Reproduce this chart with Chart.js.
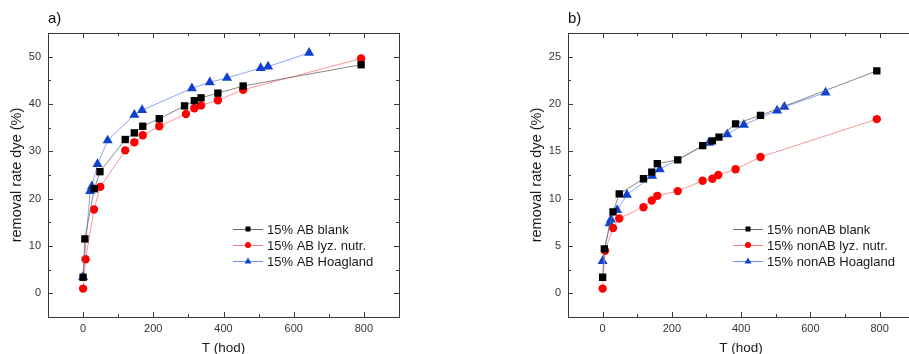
<!DOCTYPE html>
<html>
<head>
<meta charset="utf-8">
<script src="https://cdn.jsdelivr.net/npm/chart.js@4/dist/chart.umd.min.js"></script>
<style>
  html, body { margin: 0; padding: 0; background: #fff; overflow: hidden; width: 909px; height: 354px; }
  #chartA { position: absolute; left: 0; top: 0; }
  #chartB { position: absolute; left: 460px; top: 0; }
</style>
</head>
<body>
<canvas id="chartA" width="460" height="356"></canvas>
<canvas id="chartB" width="460" height="356"></canvas>
<script>
// time axis (hours) and tick labels
const xTicks = [0, 200, 400, 600, 800];
const xMinor = [100, 300, 500, 700];
const yTicksAB = [0, 10, 20, 30, 40, 50];
const yMinorAB = [5, 15, 25, 35, 45];
const yTicksNon = [0, 5, 10, 15, 20, 25];
const yMinorNon = [2.5, 7.5, 12.5, 17.5, 22.5];

// a) 15% AB
const tBlankAB = [0, 5, 32, 48, 120, 146, 170, 217, 289, 317, 336, 384, 456, 792];
const blankAB = [3.4, 11.5, 22.1, 25.7, 32.5, 33.9, 35.3, 36.9, 39.6, 40.7, 41.3, 42.3, 43.8, 48.3];
const tLyzAB = [0, 7, 31, 49, 120, 146, 170, 217, 293, 317, 336, 384, 456, 792];
const lyzAB = [1.0, 7.2, 17.7, 22.5, 30.2, 31.9, 33.4, 35.3, 37.9, 39.1, 39.7, 40.8, 43.0, 49.6];
const tHoagAB = [0, 20, 25, 41, 70, 146, 168, 310, 361, 410, 506, 527, 644];
const hoagAB = [3.5, 21.6, 22.6, 27.3, 32.3, 37.7, 38.7, 43.3, 44.6, 45.5, 47.6, 47.9, 50.8];

// b) 15% nonAB
const tBlankNon = [0, 5, 30, 48, 118, 142, 158, 217, 289, 317, 336, 384, 456, 792];
const blankNon = [1.7, 4.7, 8.6, 10.5, 12.1, 12.8, 13.7, 14.1, 15.6, 16.1, 16.5, 17.9, 18.8, 23.5];
const tLyzNon = [0, 7, 30, 48, 118, 142, 158, 217, 289, 317, 334, 384, 456, 792];
const lyzNon = [0.5, 4.5, 6.9, 7.9, 9.1, 9.8, 10.3, 10.8, 11.9, 12.1, 12.5, 13.1, 14.4, 18.4];
const tHoagNon = [0, 20, 24, 42, 70, 143, 165, 307, 360, 408, 504, 525, 644];
const hoagNon = [3.4, 7.4, 7.8, 8.8, 10.4, 12.4, 13.1, 15.9, 16.8, 17.8, 19.3, 19.7, 21.2];

const FONT = "'Liberation Sans', Arial, sans-serif";

function pts(t, v) {
  return t.map((x, i) => ({ x: x, y: v[i] }));
}

function series(label, t, v, kind) {
  const styles = {
    blank: { line: '#6a6a6a', fill: '#000000', pointStyle: 'rect', radius: 5.2 },
    lyz: { line: '#ff7a7a', fill: '#ff0000', pointStyle: 'circle', radius: 4.2 },
    hoag: { line: '#6f8ff0', fill: '#1040d0', pointStyle: 'triangle', radius: 5.8 }
  };
  const s = styles[kind];
  return {
    label: label,
    data: pts(t, v),
    showLine: true,
    borderColor: s.line,
    borderWidth: 0.8,
    pointStyle: s.pointStyle,
    pointRadius: s.radius,
    pointBackgroundColor: s.fill,
    pointBorderColor: s.fill,
    pointBorderWidth: 0,
    kind: kind
  };
}

// frame with inward ticks on all four sides (Origin style)
const frameTicks = {
  id: 'frameTicks',
  afterDraw(chart, args, opts) {
    const { ctx, chartArea: a, scales: { x, y } } = chart;
    ctx.save();
    ctx.strokeStyle = '#3a3a3a';
    ctx.lineWidth = 1;
    ctx.strokeRect(Math.round(a.left) + 0.5, Math.round(a.top) + 0.5, Math.round(a.width), Math.round(a.height));
    const tick = (x1, y1, x2, y2) => {
      ctx.beginPath(); ctx.moveTo(x1, y1); ctx.lineTo(x2, y2); ctx.stroke();
    };
    const drawX = (vals, len) => vals.forEach(v => {
      const px = Math.round(x.getPixelForValue(v)) + 0.5;
      tick(px, a.bottom, px, a.bottom - len);
      tick(px, a.top, px, a.top + len);
    });
    const drawY = (vals, len) => vals.forEach(v => {
      const py = Math.round(y.getPixelForValue(v)) + 0.5;
      tick(a.left, py, a.left + len, py);
      tick(a.right, py, a.right - len, py);
    });
    drawX(xTicks, 5); drawX(xMinor, 3);
    drawY(opts.yMajor, 5); drawY(opts.yMinor, 3);
    ctx.restore();
  }
};

// legend inside the plot: line through marker, then label
const originLegend = {
  id: 'originLegend',
  afterDraw(chart, args, opts) {
    const { ctx, chartArea: a } = chart;
    const x0 = a.left + opts.left;
    const y0 = a.top + opts.top;
    chart.data.datasets.forEach((ds, i) => {
      const yy = y0 + i * 16;
      const mx = x0 + 15;
      ctx.save();
      ctx.strokeStyle = ds.borderColor;
      ctx.lineWidth = 1;
      ctx.beginPath(); ctx.moveTo(x0, yy + 0.5); ctx.lineTo(x0 + 30, yy + 0.5); ctx.stroke();
      ctx.fillStyle = ds.pointBackgroundColor;
      ctx.beginPath();
      if (ds.kind === 'blank') {
        ctx.rect(mx - 2.5, yy - 2.5, 5, 5);
      } else if (ds.kind === 'lyz') {
        ctx.arc(mx, yy, 3, 0, Math.PI * 2);
      } else {
        ctx.moveTo(mx, yy - 3.5); ctx.lineTo(mx + 3.5, yy + 2.5); ctx.lineTo(mx - 3.5, yy + 2.5); ctx.closePath();
      }
      ctx.fill();
      ctx.fillStyle = '#1a1a1a';
      ctx.font = '13px ' + FONT;
      ctx.textBaseline = 'middle';
      ctx.textAlign = 'left';
      ctx.fillText(ds.label, x0 + 34, yy + 1);
      ctx.restore();
    });
  }
};

function makeChart(id, panel, datasets, yMin, yMax, yMajor, yMinor, padLeft, padRight, legendLeft) {
  return new Chart(document.getElementById(id), {
    type: 'scatter',
    data: { datasets: datasets },
    plugins: [frameTicks, originLegend],
    options: {
      responsive: false,
      animation: false,
      devicePixelRatio: 1,
      layout: { padding: { left: padLeft, right: padRight, top: 0, bottom: 0 } },
      plugins: {
        legend: { display: false },
        tooltip: { enabled: false },
        title: {
          display: true, text: panel, align: 'start', fullSize: false,
          color: '#111', font: { family: FONT, size: 15, weight: 'normal' },
          padding: { top: 10, bottom: 5 }
        },
        frameTicks: { yMajor: yMajor, yMinor: yMinor },
        originLegend: { left: legendLeft, top: 196 }
      },
      scales: {
        x: {
          type: 'linear', min: -100, max: 900,
          grid: { display: false, drawTicks: false },
          border: { display: false },
          afterBuildTicks: s => { s.ticks = xTicks.map(v => ({ value: v })); },
          afterFit: s => { s.height = 39; },
          ticks: { padding: 5, color: '#333', maxRotation: 0, font: { family: FONT, size: 11 } },
          title: { display: true, text: 'T (hod)', color: '#1a1a1a', padding: 0, font: { family: FONT, size: 13.5 } }
        },
        y: {
          type: 'linear', min: yMin, max: yMax,
          grid: { display: false, drawTicks: false },
          border: { display: false },
          afterBuildTicks: s => { s.ticks = yMajor.map(v => ({ value: v })); },
          afterFit: s => { s.width = 48; },
          ticks: { padding: 7, color: '#333', font: { family: FONT, size: 11 } },
          title: { display: true, text: 'removal rate dye (%)', color: '#1a1a1a', padding: { top: 8, bottom: 0 }, font: { family: FONT, size: 14.5 } }
        }
      }
    }
  });
}

makeChart('chartA', 'a)', [
  series('15% AB blank', tBlankAB, blankAB, 'blank'),
  series('15% AB lyz. nutr.', tLyzAB, lyzAB, 'lyz'),
  series('15% AB Hoagland', tHoagAB, hoagAB, 'hoag')
], -5, 55, yTicksAB, yMinorAB, 0, 61, 185);

makeChart('chartB', 'b)', [
  series('15% nonAB blank', tBlankNon, blankNon, 'blank'),
  series('15% nonAB lyz. nutr.', tLyzNon, lyzNon, 'lyz'),
  series('15% nonAB Hoagland', tHoagNon, hoagNon, 'hoag')
], -2.5, 27.5, yTicksNon, yMinorNon, 60, 2, 165);
</script>
</body>
</html>
